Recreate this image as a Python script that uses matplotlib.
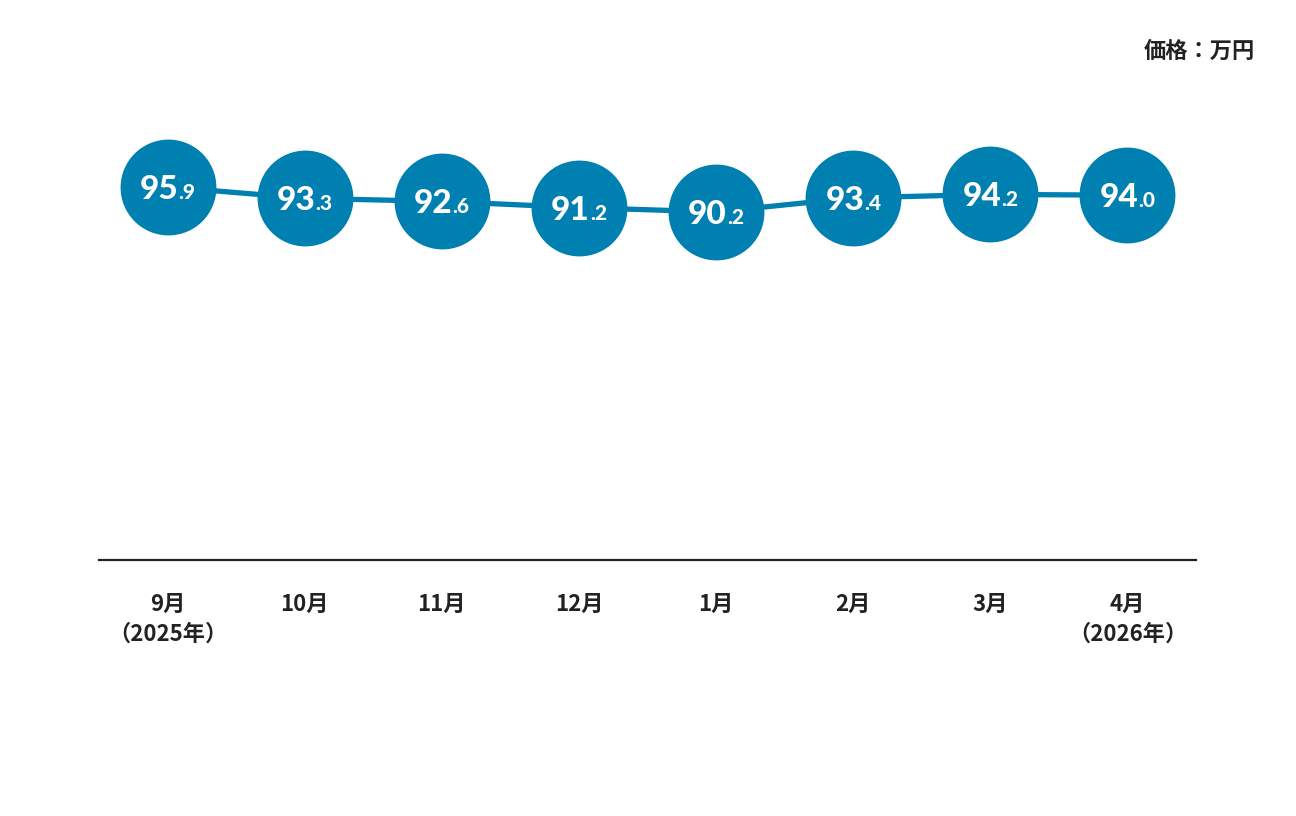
import matplotlib
matplotlib.use("Agg")
import matplotlib.pyplot as plt
from matplotlib.transforms import offset_copy

plt.rcParams['font.family'] = ['Noto Sans CJK JP', 'DejaVu Sans']

months = ['9月\n（2025年）', '10月', '11月', '12月', '1月', '2月', '3月', '4月\n（2026年）']
prices = [95.9, 93.3, 92.6, 91.2, 90.2, 93.4, 94.2, 94.0]

blue = '#007fb1'
dark = '#222222'

fig = plt.figure(figsize=(12.96, 8.16), dpi=100)
W, H = 1296, 816
# axes from x=99..1196, y=100..560 (pixels from top)
ax = fig.add_axes([99 / W, 1 - 560 / H, (1196 - 99) / W, (560 - 100) / H])

xs = list(range(len(prices)))
ax.plot(xs, prices, color=blue, lw=3.8, zorder=2, solid_capstyle='butt')
ax.plot(xs, prices, 'o', color=blue, markersize=69, markeredgewidth=0, zorder=3)

ax.set_xlim(-0.5, len(prices) - 0.5)
ax.set_ylim(11.1, 11.1 + 460 / 4.4)

for s in ['top', 'right', 'left']:
    ax.spines[s].set_visible(False)
ax.spines['bottom'].set_color(dark)
ax.spines['bottom'].set_linewidth(1.6)
ax.set_yticks([])
ax.set_xticks(xs)
ax.set_xticklabels(months, fontsize=16, fontweight='bold', color=dark, linespacing=1.35)
ax.tick_params(axis='x', length=0, pad=24)

fig.text(1255 / W, 1 - 51 / H, '価格：万円', ha='right', va='center',
         fontsize=16, fontweight='bold', color=dark)

# value labels: big integer part, small decimal part
pairs = []
for x, v in zip(xs, prices):
    whole, dec = f'{v:.1f}'.split('.')
    t1 = ax.text(x, v, whole, ha='right', va='baseline', color='white',
                 fontsize=24, fontweight='black', family='Lato', zorder=4)
    t2 = ax.text(x, v, '.' + dec, ha='left', va='baseline', color='white',
                 fontsize=15, fontweight='black', family='Lato', zorder=4)
    pairs.append((x, v, t1, t2))

fig.canvas.draw()
r = fig.canvas.get_renderer()
for x, v, t1, t2 in pairs:
    w1 = t1.get_window_extent(r).width
    w2 = t2.get_window_extent(r).width
    dx = -(w1 + w2) / 2 + w1
    tr = offset_copy(ax.transData, fig=fig, x=dx, y=-12, units='dots')
    t1.set_transform(tr)
    t2.set_transform(tr)

fig.savefig('out.png', dpi=100, facecolor='white')
